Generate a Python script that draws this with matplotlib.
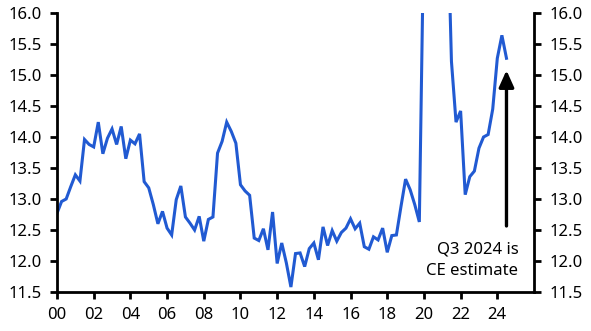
import matplotlib.pyplot as plt
import matplotlib
import numpy as np

matplotlib.rcParams['font.family'] = ['Noto Sans', 'DejaVu Sans']

# quarterly values, 2000 Q1 .. 2024 Q3 (2020-21 spike runs off the top of the chart)
vals_2000_04 = [12.77, 12.96, 13.00, 13.20, 13.39, 13.29, 13.96, 13.88, 13.84, 14.24,
                13.73, 13.98, 14.13, 13.88, 14.17, 13.65, 13.95, 13.89, 14.05, 13.28]
vals_2005_09 = [13.18, 12.91, 12.60, 12.80, 12.53, 12.42, 12.99, 13.21, 12.71, 12.61,
                12.50, 12.72, 12.32, 12.67, 12.71, 13.74, 13.93, 14.24, 14.09, 13.90]
vals_2010_14 = [13.23, 13.13, 13.06, 12.37, 12.33, 12.52, 12.18, 12.79, 11.96, 12.29,
                11.97, 11.58, 12.12, 12.13, 11.91, 12.20, 12.29, 12.02, 12.55, 12.25]
vals_2015_19 = [12.49, 12.32, 12.46, 12.53, 12.68, 12.52, 12.61, 12.23, 12.19, 12.39,
                12.34, 12.53, 12.14, 12.41, 12.42, 12.88, 13.32, 13.15, 12.91, 12.63]
vals_2020_24 = [17.5, 25.0, 19.5, 20.2, 21.0, 18.0, 15.22, 14.24, 14.42, 13.07,
                13.36, 13.45, 13.82, 14.00, 14.04, 14.45, 15.27, 15.64, 15.27]

values = np.array(vals_2000_04 + vals_2005_09 + vals_2010_14 + vals_2015_19 + vals_2020_24)
dates = 2000 + np.arange(len(values)) / 4.0

yticks = np.arange(11.5, 16.01, 0.5)
xticks = np.arange(2000, 2025, 2)
xlabels = ['{:02d}'.format(y % 100) for y in xticks]

fig = plt.figure(figsize=(5.91, 3.31), dpi=100)
ax = fig.add_axes([57 / 591, 1 - 292 / 331, (534 - 57) / 591, (292 - 13) / 331])

ax.plot(dates, values, color='#215ad2', lw=2.2, solid_joinstyle='miter')

ax.set_xlim(2000, 2026)
ax.set_ylim(11.5, 16.0)
ax.set_yticks(yticks)
ax.set_yticklabels(['{:.1f}'.format(v) for v in yticks])
ax.set_xticks(xticks)
ax.set_xticklabels(xlabels)

ax.spines['top'].set_visible(False)
for s in ['left', 'right', 'bottom']:
    ax.spines[s].set_linewidth(2.0)
ax.tick_params(axis='both', direction='out', length=5, width=2.0, labelsize=12, pad=6)
ax.tick_params(axis='y', left=True, right=True, labelleft=True, labelright=True)

# arrow + note for the estimate
ax.annotate('', xy=(2024.5, 15.12), xytext=(2024.5, 12.52),
            arrowprops=dict(arrowstyle='-|>,head_width=0.45,head_length=1.0', color='k', lw=2.4))
ax.text(2025.15, 12.01, 'Q3 2024 is\nCE estimate', ha='right', va='center', fontsize=12, linespacing=1.5)

plt.savefig('out.png', dpi=100)
